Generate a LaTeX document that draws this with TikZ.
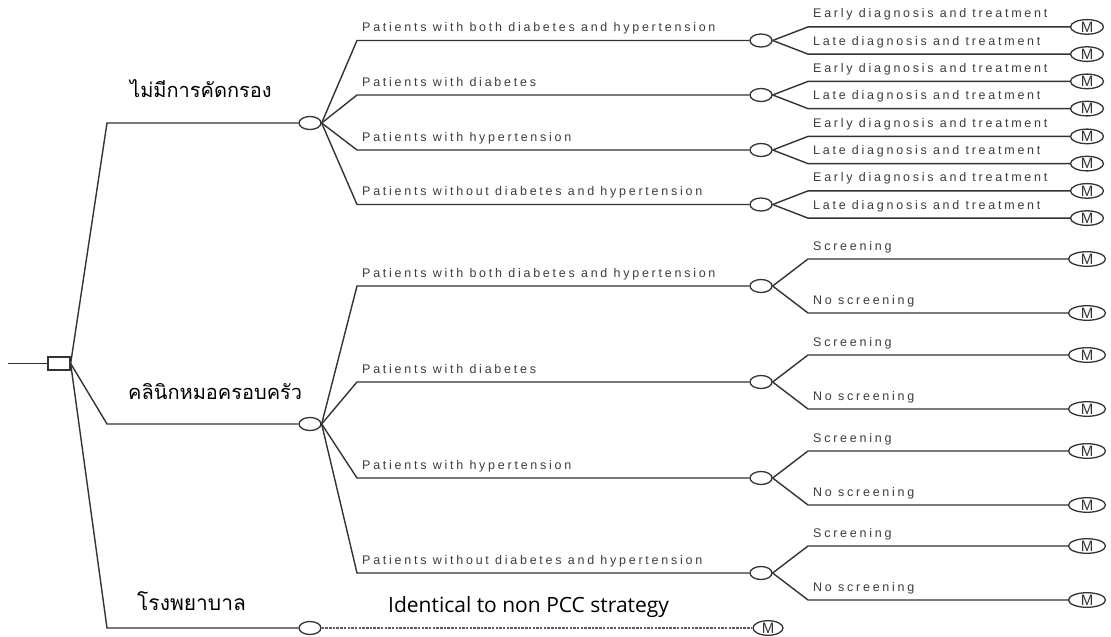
\documentclass[tikz,border=0pt]{standalone}
\usepackage{fontspec}
\usetikzlibrary{shapes.geometric}
\newfontfamily\thaifont[Script=Thai]{Loma}
\newfontfamily\labfont[LetterSpace=22]{Liberation Sans}
\newfontfamily\mfont{Liberation Sans}
\newfontfamily\notefont{Open Sans}
\definecolor{lc}{HTML}{333333}
\definecolor{tc}{HTML}{3C3C3C}
\tikzset{
  ln/.style={draw=lc, line width=1.4pt},
  dashln/.style={draw=lc!80, line width=1.1pt, dash pattern=on 2.5pt off 1.2pt},
  chance/.style={ellipse, draw=lc, line width=1.3pt, minimum width=22pt, minimum height=13pt, inner sep=0pt, fill=white},
  term/.style={ellipse, draw=lc, line width=1.3pt, minimum width=33pt, minimum height=12pt, inner sep=0pt, font=\mfont\fontsize{15}{15}\selectfont, text=lc},
  termb/.style={term, minimum width=37pt, minimum height=13pt},
  dec/.style={rectangle, draw=lc, line width=1.3pt, minimum width=22pt, minimum height=13pt, inner sep=0pt},
  lab/.style={anchor=base west, inner sep=0pt, font=\labfont\fontsize{12.5}{14}\selectfont, text=tc},
  thai/.style={anchor=base west, inner sep=0pt, font=\thaifont\fontsize{20}{24}\selectfont, text=black},
  note/.style={anchor=base west, inner sep=0pt, font=\notefont\fontsize{21}{24}\selectfont, text=black}
}
\begin{document}
\begin{tikzpicture}[x=1pt, y=-1pt]
\useasboundingbox (0,0) rectangle (1111,637);
% root decision
\coordinate (start) at (8,363.5);
\node[dec] (D) at (59,363.5) {};
\draw[ln] (start) -- (D.west);
% first level
\node[chance] (A) at (310,123) {};
\node[chance] (B) at (310,424) {};
\node[chance] (C) at (310,628) {};
\coordinate (ka) at (107,123);
\coordinate (kb) at (107,424);
\coordinate (kc) at (107,628);
\draw[ln] (D.east) -- (ka) -- (A.west);
\draw[ln] (D.east) -- (kb) -- (B.west);
\draw[ln] (D.east) -- (kc) -- (C.west);
\node[thai] (ta) at (130,97) {ไม่มีการคัดกรอง};
\node[thai] (tb) at (128,399) {คลินิกหมอครอบครัว};
\node[thai, font=\thaifont\fontsize{21}{24}\selectfont] (tc) at (137,610) {โรงพยาบาล};
% top group
\foreach \i/\y/\t in {1/40.5/Patients with both diabetes and hypertension,
                      2/95/Patients with diabetes,
                      3/150/Patients with hypertension,
                      4/204.5/Patients without diabetes and hypertension} {
  \node[chance] (A\i) at (761,\y) {};
  \coordinate (ak\i) at (357,\y);
  \draw[ln] (A.east) -- (ak\i) -- (A\i.west);
  \node[lab] (al\i) at (362,\y-9) {\t};
  \coordinate (au\i) at (808,\y-13.6);
  \coordinate (ad\i) at (808,\y+13.6);
  \node[term] (AU\i) at (1087,\y-13.6) {M};
  \node[term] (AD\i) at (1087,\y+13.6) {M};
  \draw[ln] (A\i.east) -- (au\i) -- (AU\i.west);
  \draw[ln] (A\i.east) -- (ad\i) -- (AD\i.west);
  \node[lab] (aul\i) at (813,\y-13.6-9) {Early diagnosis and treatment};
  \node[lab] (adl\i) at (813,\y+13.6-9) {Late diagnosis and treatment};
}
% bottom group
\foreach \i/\y/\t in {1/286/Patients with both diabetes and hypertension,
                      2/382/Patients with diabetes,
                      3/478/Patients with hypertension,
                      4/573/Patients without diabetes and hypertension} {
  \node[chance] (B\i) at (761,\y) {};
  \coordinate (bk\i) at (357,\y);
  \draw[ln] (B.east) -- (bk\i) -- (B\i.west);
  \node[lab] (bl\i) at (362,\y-9) {\t};
  \coordinate (bu\i) at (808,\y-27);
  \coordinate (bd\i) at (808,\y+27);
  \node[termb] (BU\i) at (1087,\y-27) {M};
  \node[termb] (BD\i) at (1087,\y+27) {M};
  \draw[ln] (B\i.east) -- (bu\i) -- (BU\i.west);
  \draw[ln] (B\i.east) -- (bd\i) -- (BD\i.west);
  \node[lab] (bul\i) at (813,\y-27-9) {Screening};
  \node[lab] (bdl\i) at (813,\y+27-9) {No screening};
}
% hospital branch
\node[term, minimum width=30pt] (CM) at (768,628) {M};
\draw[dashln] (C.east) -- (CM.west);
\node[note] (cn) at (388,612) {Identical to non PCC strategy};
\end{tikzpicture}
\end{document}
